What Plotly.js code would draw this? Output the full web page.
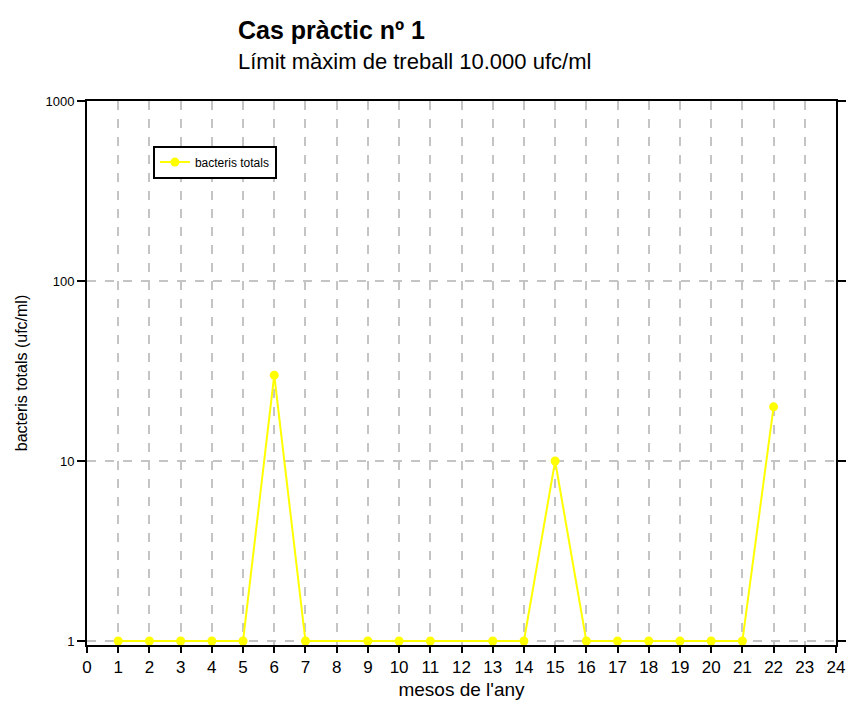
<!DOCTYPE html>
<html><head><meta charset="utf-8">
<script src="https://cdn.plot.ly/plotly-3.0.1.min.js"></script>
<style>body{margin:0;background:#fff}#c{width:850px;height:724px}</style>
</head><body><div id="c"></div>
<script>
const months = [1,2,3,4,5,6,7,9,10,11,13,14,15,16,17,18,19,20,21,22];
const bacteris = [1,1,1,1,1,30,1,1,1,1,1,1,10,1,1,1,1,1,1,20];
const seriesName = 'bacteris totals';
const titleText = '<b>Cas pràctic nº 1</b>';
const subtitleText = 'Límit màxim de treball 10.000 ufc/ml';
const xTitle = "mesos de l'any";
const yTitle = 'bacteris totals (ufc/ml)';
const yTickVals = [1,10,100,1000];
const yTickText = ['1','10','100','1000'];

const F = 'Liberation Sans, Arial, sans-serif';
const trace = {
  x: months, y: bacteris, name: seriesName, type: 'scatter', mode: 'lines+markers',
  line: {color: '#ffff00', width: 2}, marker: {color: '#ffff00', size: 9},
  cliponaxis: false, showlegend: true
};
const layout = {
  width: 850, height: 724, paper_bgcolor: '#fff', plot_bgcolor: '#fff',
  margin: {l: 87, r: 14, t: 101, b: 79},
  font: {family: F, color: '#000'},
  showlegend: true,
  legend: {x: 0.088, y: 0.918, xanchor: 'left', yanchor: 'top', bordercolor: '#000', borderwidth: 2,
    bgcolor: '#fff', font: {size: 12, family: F}},
  xaxis: {range: [0, 24], dtick: 1, tick0: 0, showline: true, linecolor: '#000', linewidth: 2,
    mirror: true, ticks: 'outside', ticklen: 6, tickwidth: 2, tickcolor: '#000',
    showgrid: true, gridcolor: '#c4c4c4', griddash: 'dash', gridwidth: 2, zeroline: false,
    tickfont: {size: 17, family: F},
    title: {text: xTitle, font: {size: 19, family: F}, standoff: 6}},
  yaxis: {type: 'log', range: [-0.022, 3], tickvals: yTickVals, ticktext: yTickText,
    showline: true, linecolor: '#000', linewidth: 2, mirror: 'ticks', ticks: 'outside', ticklen: 8,
    tickwidth: 2, tickcolor: '#000',
    showgrid: true, gridcolor: '#c4c4c4', griddash: 'dash', gridwidth: 2, zeroline: false,
    tickfont: {size: 13, family: F},
    title: {text: yTitle, font: {size: 16, family: F}, standoff: 14}},
  annotations: [
    {text: titleText, xref: 'paper', yref: 'paper', x: 0.199, y: 1, xanchor: 'left', yanchor: 'middle',
     yshift: 71, showarrow: false, font: {size: 25, family: F}},
    {text: subtitleText, xref: 'paper', yref: 'paper', x: 0.199, y: 1, xanchor: 'left', yanchor: 'middle',
     yshift: 40, showarrow: false, font: {size: 22, family: F}}
  ]
};
Plotly.newPlot('c', [trace], layout, {displayModeBar: false, staticPlot: true});
</script></body></html>
